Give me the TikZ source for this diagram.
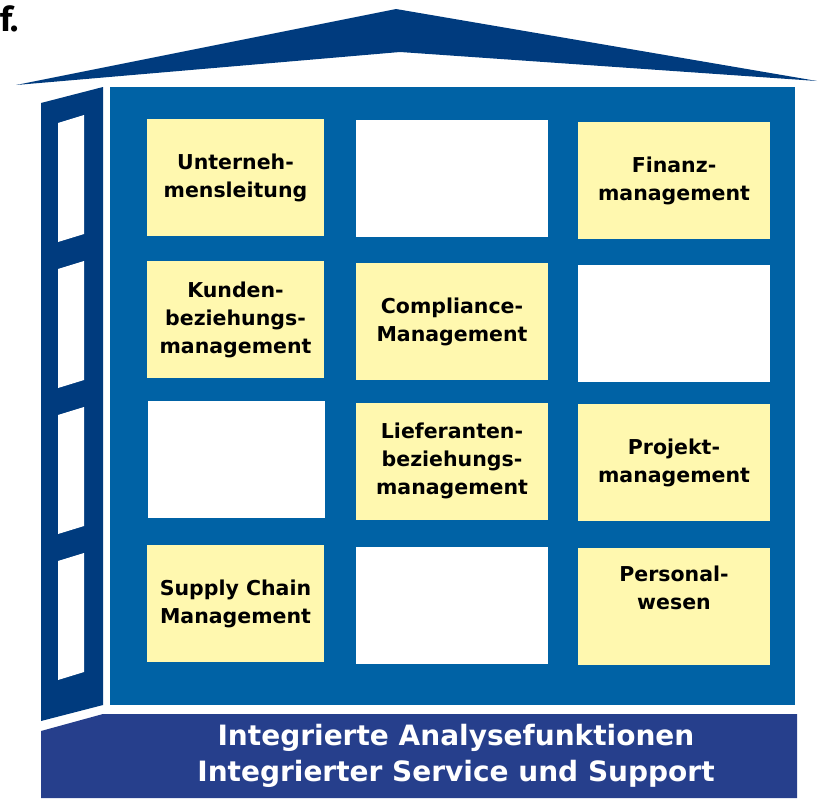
\documentclass[tikz,border=0pt]{standalone}
\usepackage{fontspec}
\setmainfont{DejaVu Sans}
\newfontfamily\firafont{Fira Sans}
\usetikzlibrary{positioning}
\definecolor{dachblau}{HTML}{003B7E}
\definecolor{hausblau}{HTML}{0062A5}
\definecolor{sockelblau}{HTML}{263F8C}
\definecolor{modulgelb}{HTML}{FFF8AF}

\begin{document}
\begin{tikzpicture}[x=1pt, y=-1pt,
    modul/.style={fill=modulgelb, minimum width=177pt, minimum height=117pt,
        inner sep=0pt, align=center, font=\fontsize{20.5}{28}\selectfont\bfseries},
    modulbreit/.style={modul, minimum width=192pt},
    leer/.style={fill=white},
    fenster/.style={fill=white},
    sockeltext/.style={white, align=center, font=\fontsize{28}{36}\selectfont\bfseries}
]
    \useasboundingbox (0,0) rectangle (819,798);
    \node[anchor=base west, inner sep=0pt, font=\firafont\fontsize{34}{34}\selectfont\bfseries] (buchstabe) at (0,31) {f.};
    % Dach
    \fill[dachblau] (16,85) -- (396,9) -- (817,81) -- (400,52) -- cycle;
    % Seitenwand mit Fenstern
    \fill[dachblau] (41,103) -- (103,87) -- (103,705) -- (41,721) -- cycle;
    \foreach \y in {123,269,415,561}
        \fill[fenster] (58,\y) -- (84,\y-8) -- (84,\y+111) -- (58,\y+119) -- cycle;
    % Hauswand
    \fill[hausblau] (110,87) rectangle (795,705);
    % Module
    \node[modul] (fuehrung) at (235.5,177.5) {Unterneh-\\mensleitung};
    \node[modulbreit, leer] (leer1) at (452,178.5) {};
    \node[modulbreit] (finanz) at (674,180.5) {Finanz-\\management};
    \node[modul] (kunden) at (235.5,319.5) {Kunden-\\beziehungs-\\management};
    \node[modulbreit] (compliance) at (452,321.5) {Compliance-\\Management};
    \node[modulbreit, leer] (leer2) at (674,323.5) {};
    \node[modul, leer] (leer3) at (236.5,459.5) {};
    \node[modulbreit] (lieferanten) at (452,461) {Lieferanten-\\beziehungs-\\management};
    \node[modulbreit] (projekt) at (674,462.5) {Projekt-\\management};
    \node[modul] (scm) at (235.5,603.5) {Supply Chain\\Management};
    \node[modulbreit, leer] (leer4) at (452,605.5) {};
    \node[modulbreit, text depth=38pt] (personal) at (674,606.5) {Personal-\\wesen};
    % Sockel
    \fill[sockelblau] (41,731) -- (103,714) -- (797,714) -- (797,798) -- (41,798) -- cycle;
    \node[sockeltext] (analyse) at (456,756) {Integrierte Analysefunktionen\\Integrierter Service und Support};
\end{tikzpicture}
\end{document}
